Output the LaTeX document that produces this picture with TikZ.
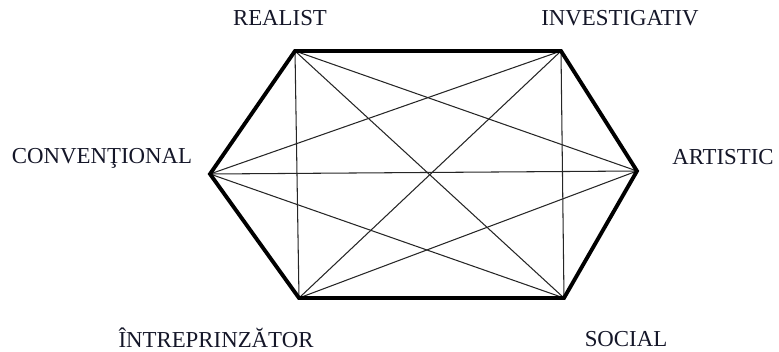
\documentclass[tikz,border=0pt]{standalone}
\usepackage{fontspec}
\setmainfont{Liberation Serif}
\usepackage{tikz}
\usetikzlibrary{calc}
\definecolor{ink}{RGB}{20,22,40}

\begin{document}
\begin{tikzpicture}[
  x=0.02cm, y=-0.02cm,
  edge/.style={line width=2.2pt, line join=miter, draw=black},
  diag/.style={line width=0.6pt, draw=black!85},
  type/.style={font=\fontsize{13}{15}\selectfont, text=ink, inner sep=0pt}
]
\useasboundingbox (0,0) rectangle (779,352);

% Hexagon corners.
\coordinate (r) at (295,51);
\coordinate (i) at (561,51);
\coordinate (a) at (637,171);
\coordinate (s) at (564,298);
\coordinate (e) at (299,298);
\coordinate (c) at (210,174);

% Labels.
\node[type] (realist) at (280,18) {REALIST};
\node[type] (invest) at (620,18) {INVESTIGATIV};
\node[type] (conv) at (102,158) {CONVENŢIONAL};
\node[type] (artistic) at (723,157) {ARTISTIC};
\node[type] (intrep) at (216,338) {ÎNTREPRINZĂTOR};
\node[type] (social) at (626,339) {SOCIAL};

% Diagonals.
\foreach \u/\v in {r/a, r/s, r/e, i/s, i/e, i/c, a/e, a/c, s/c}
  \draw[diag] (\u) -- (\v);

% Outline.
\draw[edge] (r) -- (i) -- (a) -- (s) -- (e) -- (c) -- cycle;

\end{tikzpicture}
\end{document}
